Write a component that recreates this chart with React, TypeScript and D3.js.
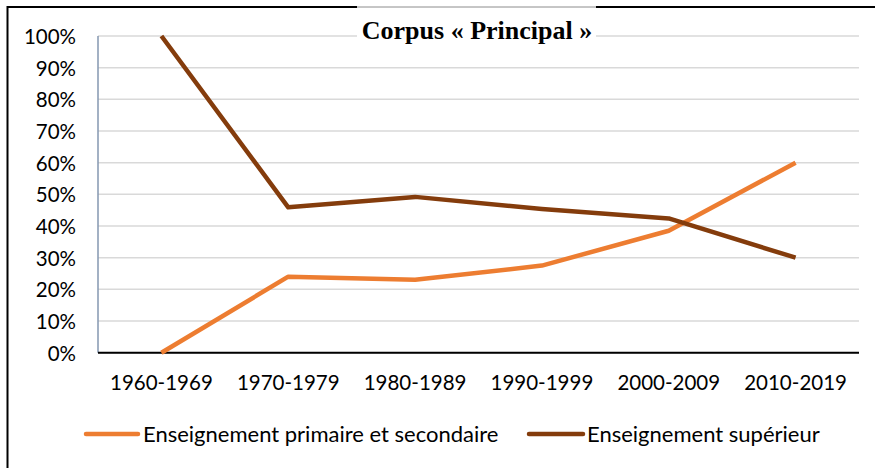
import React from "react";
import * as d3 from "d3";

const categories = ["1960-1969", "1970-1979", "1980-1989", "1990-1999", "2000-2009", "2010-2019"];
const primaire = [0, 24.0, 23.0, 27.5, 38.5, 60.0];
const superieur = [100, 45.9, 49.2, 45.4, 42.4, 30.0];
const yTicks = [0, 10, 20, 30, 40, 50, 60, 70, 80, 90, 100];
const seriesNames = ["Enseignement primaire et secondaire", "Enseignement supérieur"];
const seriesColors = ["#ED7D31", "#843C0C"];
const title = "Corpus « Principal »";

const W = 875;
const H = 468;
const plot = { left: 98, right: 859, top: 36, bottom: 352.7 };
const labelFont = "Lato, 'Open Sans', sans-serif";

export default function App() {
  const x = d3.scaleBand<string>().domain(categories).range([plot.left, plot.right]).padding(0);
  const y = d3.scaleLinear().domain([0, 100]).range([plot.bottom, plot.top]);
  const cx = (c: string) => (x(c) as number) + x.bandwidth() / 2;
  const line = d3
    .line<number>()
    .x((_, i) => cx(categories[i]))
    .y((v) => y(v));
  const series = [primaire, superieur];

  return (
    <svg
      width={W}
      height={H}
      style={{ position: "absolute", left: 0, top: 0, background: "#fff" }}
    >
      <rect x={0} y={0} width={W} height={H} fill="#fff" />
      {/* outer frame: top and left */}
      <line x1={7.5} y1={7} x2={W} y2={7} stroke="#000" strokeWidth={2} />
      <line x1={7.5} y1={6} x2={7.5} y2={H} stroke="#000" strokeWidth={2} />

      {/* gridlines */}
      {yTicks.map((t) => (
        <line
          key={t}
          x1={plot.left}
          x2={plot.right}
          y1={y(t)}
          y2={y(t)}
          stroke="#D9D9D9"
          strokeWidth={1.5}
        />
      ))}
      {/* y axis line */}
      <line x1={plot.left} x2={plot.left} y1={plot.top} y2={plot.bottom} stroke="#8497B0" strokeWidth={1.5} />
      {/* x axis line */}
      <line x1={plot.left} x2={plot.right} y1={plot.bottom} y2={plot.bottom} stroke="#000" strokeWidth={2} />

      {/* y tick labels */}
      {yTicks.map((t) => (
        <text
          key={t}
          x={76}
          y={y(t)}
          textAnchor="end"
          dominantBaseline="central"
          fontFamily={labelFont}
          fontSize={20.5}
          fill="#000"
        >
          {t}%
        </text>
      ))}
      {/* x tick labels */}
      {categories.map((c) => (
        <text
          key={c}
          x={cx(c)}
          y={390}
          textAnchor="middle"
          fontFamily={labelFont}
          fontSize={20.5}
          fill="#000"
        >
          {c}
        </text>
      ))}

      {/* series */}
      {series.map((s, i) => (
        <path
          key={i}
          d={line(s) as string}
          fill="none"
          stroke={seriesColors[i]}
          strokeWidth={4.5}
          strokeLinejoin="round"
        />
      ))}

      {/* title with white box */}
      <rect x={357} y={8} width={239} height={38} fill="#fff" />
      <line x1={357} x2={596} y1={7} y2={7} stroke="#fff" strokeWidth={3} />
      <line x1={357} x2={596} y1={7} y2={7} stroke="#8c8c8c" strokeWidth={1} />
      <text
        x={477}
        y={39}
        textAnchor="middle"
        fontFamily="'Liberation Serif', 'Times New Roman', serif"
        fontWeight="bold"
        fontSize={26}
        fill="#000"
      >
        {title}
      </text>

      {/* legend */}
      {[
        { x1: 86, x2: 138, tx: 143 },
        { x1: 529, x2: 583, tx: 587 },
      ].map((l, i) => (
        <g key={i}>
          <line x1={l.x1} x2={l.x2} y1={434} y2={434} stroke={seriesColors[i]} strokeWidth={4.5} strokeLinecap="round" />
          <text x={l.tx} y={441.5} fontFamily={labelFont} fontSize={22} fill="#000">
            {seriesNames[i]}
          </text>
        </g>
      ))}
    </svg>
  );
}
